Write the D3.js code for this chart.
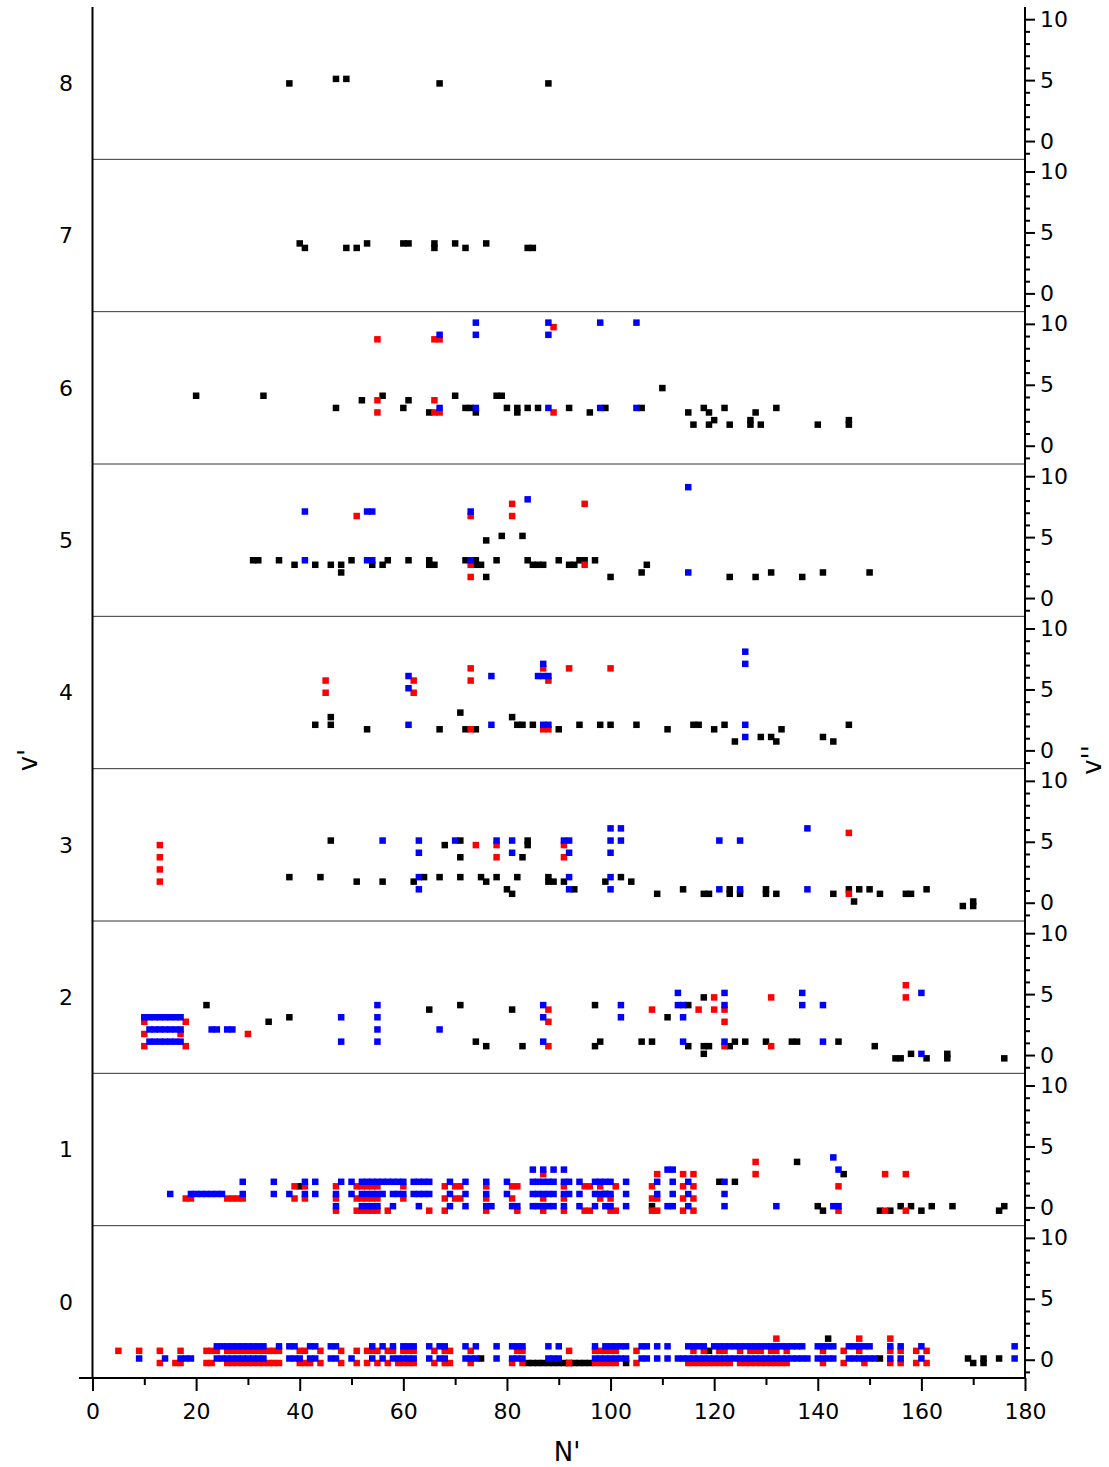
<!DOCTYPE html>
<html>
<head>
<meta charset="utf-8">
<script src="https://cdnjs.cloudflare.com/ajax/libs/d3/7.8.5/d3.min.js"></script>
<style>
body { margin: 0; background: #fff; }
svg { display: block; font-family: "DejaVu Sans", sans-serif; }
</style>
</head>
<body>
<div id="chart"></div>
<script>
// rows are [v'', [N' ...]] ; one set of arrays per v' panel
var vPrime = [0, 1, 2, 3, 4, 5, 6, 7, 8];
var xTicks = [0, 20, 40, 60, 80, 100, 120, 140, 160, 180];
var xMinor = [10, 30, 50, 70, 90, 110, 130, 150, 170];
var rTicks = [0, 5, 10];
var rMinor = [-1, 1, 2, 3, 4, 6, 7, 8, 9];

// v' = 0
var red0 = [
  [2, [132, 148, 154]],
  [1, [5, 9, 13, 17, 22, 23, 24, 26, 27, 28, 29, 30, 31, 32, 33, 34, 35, 36, 40, 41, 44, 48, 51, 53, 54, 55, 57, 58, 60, 61, 62, 66, 68, 69, 73, 82, 83, 92, 97, 98, 99, 100, 101, 105, 116, 118, 121, 122, 125, 127, 128, 129, 131, 132, 134, 141, 145, 148, 154, 156, 159, 161]],
  [0, [13, 16, 17, 22, 23, 26, 27, 28, 29, 30, 31, 32, 33, 34, 35, 36, 40, 41, 42, 44, 48, 51, 53, 55, 57, 59, 60, 61, 62, 66, 68, 69, 73, 81, 83, 92, 97, 98, 99, 100, 101, 105, 115, 116, 117, 118, 119, 120, 121, 122, 123, 125, 126, 127, 128, 129, 130, 131, 132, 133, 134, 141, 145, 149, 154, 156, 159, 161]]
];
var blue0 = [
  [1, [24, 25, 26, 27, 28, 29, 30, 31, 32, 33, 36, 38, 39, 42, 43, 46, 47, 54, 56, 58, 60, 61, 62, 65, 67, 68, 72, 74, 78, 81, 82, 83, 88, 90, 97, 99, 100, 101, 102, 103, 106, 107, 109, 111, 115, 116, 117, 118, 120, 121, 122, 123, 124, 125, 126, 127, 128, 129, 130, 131, 132, 133, 134, 135, 136, 137, 140, 141, 142, 143, 146, 147, 148, 149, 150, 154, 156, 160, 178]],
  [0, [9, 14, 17, 18, 19, 24, 25, 26, 27, 28, 29, 30, 31, 32, 33, 38, 39, 40, 42, 43, 46, 47, 50, 54, 56, 58, 59, 60, 61, 62, 65, 67, 68, 72, 73, 74, 78, 81, 82, 83, 88, 89, 90, 97, 98, 99, 100, 101, 102, 103, 106, 107, 109, 111, 113, 114, 115, 116, 117, 118, 119, 120, 121, 122, 123, 124, 125, 126, 127, 128, 129, 130, 131, 132, 133, 134, 135, 136, 137, 138, 140, 141, 142, 143, 146, 147, 148, 149, 150, 151, 154, 156, 160, 178]]
];
var blkU0 = [[0, [75, 152, 169, 172, 175]]];
var blkL0 = [[2, [142]], [1, [119]], [0, [84, 85, 86, 87, 88, 89, 90, 91, 92, 93, 94, 95, 96, 103, 170, 172]]];

// v' = 1
var red1 = [
  [4, [128]],
  [3, [87, 109, 114, 116, 128, 153, 157]],
  [2, [39, 41, 47, 51, 52, 53, 54, 55, 60, 68, 70, 71, 76, 81, 82, 91, 95, 96, 98, 101, 108, 114, 116, 144]],
  [1, [18, 19, 26, 27, 28, 29, 39, 41, 47, 51, 52, 53, 54, 55, 60, 68, 70, 71, 76, 81, 87, 91, 98, 100, 108, 109, 114, 116]],
  [0, [47, 51, 52, 53, 54, 55, 57, 65, 68, 76, 82, 87, 91, 95, 96, 100, 101, 108, 109, 114, 116, 144, 153, 157]]
];
var blue1 = [
  [4, [143]],
  [3, [85, 87, 89, 91, 111, 112, 144]],
  [2, [29, 35, 41, 43, 48, 50, 52, 53, 54, 55, 56, 57, 58, 59, 60, 62, 63, 64, 65, 69, 72, 76, 80, 85, 86, 87, 88, 89, 91, 92, 94, 97, 98, 99, 100, 103, 109, 112, 115, 122]],
  [1, [15, 19, 20, 21, 22, 23, 24, 25, 29, 35, 38, 41, 43, 47, 50, 52, 53, 54, 55, 56, 58, 59, 60, 62, 63, 64, 65, 69, 72, 76, 80, 85, 86, 87, 88, 89, 91, 92, 94, 97, 98, 99, 100, 103, 109, 112, 115, 122]],
  [0, [47, 52, 53, 54, 55, 58, 63, 69, 72, 76, 77, 81, 82, 85, 86, 87, 88, 89, 91, 94, 97, 99, 100, 103, 111, 112, 115, 122, 132, 143, 144]]
];
var blkU1 = [[2, [121, 124]], [1, [99]], [0, [108, 140, 156, 158, 162, 166, 176]]];
var blkL1 = [[4, [136]], [3, [145]], [2, [40]], [0, [141, 152, 154, 160, 175]]];

// v' = 2
var red2 = [
  [6, [157]],
  [5, [120, 131, 157]],
  [4, [88, 108, 117, 120, 122]],
  [3, [10, 18, 88, 122]],
  [2, [10, 17, 30]],
  [1, [10, 18, 88, 122, 131]]
];
var blue2 = [
  [5, [113, 122, 137, 160]],
  [4, [55, 87, 102, 113, 114, 122, 137, 141]],
  [3, [10, 11, 12, 13, 14, 15, 16, 17, 48, 55, 87, 102, 114]],
  [2, [11, 12, 13, 14, 15, 16, 17, 23, 24, 26, 27, 55, 67]],
  [1, [11, 12, 13, 14, 15, 16, 17, 48, 55, 87, 114, 122, 141]],
  [0, [160]]
];
var blkU2 = [[4, [22, 71, 97, 115]], [3, [38, 111]], [1, [74, 98, 106, 108, 124, 126, 130, 135, 136, 144]], [0, [118, 158, 165]]];
var blkL2 = [[5, [118]], [4, [65, 81]], [3, [34]], [1, [76, 83, 97, 115, 118, 119, 123, 151]], [0, [155, 156, 161, 165, 176]]];

// v' = 3
var red3 = [[6, [146]], [5, [13, 74, 78, 91]], [4, [13, 78, 91]], [3, [13]], [2, [13]], [1, [146]]];
var blue3 = [
  [6, [100, 102, 138]],
  [5, [56, 63, 70, 78, 81, 91, 92, 100, 102, 121, 125]],
  [4, [63, 81, 92, 100]],
  [2, [63, 92, 100]],
  [1, [63, 92, 100, 121, 125, 138]]
];
var blkU3 = [[5, [46, 71, 84]], [2, [38, 44, 64, 67, 71, 75, 78, 82, 88, 102]], [1, [80, 93, 114, 123, 130, 146, 148, 150, 161]], [0, [147, 170]]];
var blkL3 = [[5, [68, 84]], [4, [71, 83]], [2, [51, 56, 62, 76, 88, 89, 91, 99, 104]], [1, [81, 109, 118, 119, 123, 125, 130, 132, 143, 152, 157, 158]], [0, [168, 170]]];

// v' = 4
var red4 = [[7, [73, 87, 92, 100]], [6, [45, 62, 73, 88]], [5, [45, 62]], [2, [73, 87, 88]]];
var blue4 = [[8, [126]], [7, [87, 126]], [6, [61, 77, 86, 87, 88]], [5, [61]], [2, [61, 77, 87, 88, 126]], [1, [126]]];
var blkU4 = [[3, [71]], [2, [43, 46, 82, 83, 85, 94, 98, 100, 105, 116, 117, 122, 146]], [1, [129, 131, 141]]];
var blkL4 = [[3, [46, 81]], [2, [53, 67, 72, 74, 90, 111, 120, 133]], [1, [124, 132, 143]]];

// v' = 5
var red5 = [[8, [81, 95]], [7, [51, 73, 81]], [3, [73, 95]], [2, [73]]];
var blue5 = [[9, [115]], [8, [84]], [7, [41, 53, 54, 73]], [3, [41, 53, 54, 73]], [2, [115]]];
var blkU5 = [[5, [79, 83]], [3, [31, 32, 36, 50, 57, 61, 65, 72, 74, 78, 84, 90, 94, 95, 97]], [2, [48, 106, 131, 141, 150]]];
var blkL5 = [[5, [76]], [3, [39, 43, 46, 48, 54, 56, 65, 66, 74, 75, 85, 86, 87, 92, 93, 107]], [2, [76, 100, 123, 128, 137]]];

// v' = 6
var red6 = [[10, [89]], [9, [55, 66, 67]], [4, [55, 66]], [3, [55, 66, 67, 89]]];
var blue6 = [[10, [74, 88, 98, 105]], [9, [67, 74, 88]], [3, [67, 74, 88, 98, 105]]];
var blkU6 = [[4, [20, 33, 56, 70, 78, 79]], [3, [47, 60, 72, 73, 80, 82, 84, 86, 92, 99, 106, 118, 122, 132]], [2, [120, 127, 146]]];
var blkL6 = [[5, [110]], [4, [52, 61]], [3, [65, 74, 82, 96, 115, 119, 128]], [2, [116, 119, 123, 127, 129, 140, 146]]];

// v' = 7
var red7 = [], blue7 = [];
var blkU7 = [[4, [40, 53, 60, 61, 66, 70, 76]]];
var blkL7 = [[4, [41, 49, 51, 66, 72, 84, 85]]];

// v' = 8
var red8 = [], blue8 = [];
var blkU8 = [[5, [47, 49]]];
var blkL8 = [[5, [38, 67, 88]]];

var panels = [
  {v: 0, red: red0, blue: blue0, blkU: blkU0, blkL: blkL0},
  {v: 1, red: red1, blue: blue1, blkU: blkU1, blkL: blkL1},
  {v: 2, red: red2, blue: blue2, blkU: blkU2, blkL: blkL2},
  {v: 3, red: red3, blue: blue3, blkU: blkU3, blkL: blkL3},
  {v: 4, red: red4, blue: blue4, blkU: blkU4, blkL: blkL4},
  {v: 5, red: red5, blue: blue5, blkU: blkU5, blkL: blkL5},
  {v: 6, red: red6, blue: blue6, blkU: blkU6, blkL: blkL6},
  {v: 7, red: red7, blue: blue7, blkU: blkU7, blkL: blkL7},
  {v: 8, red: red8, blue: blue8, blkU: blkU8, blkL: blkL8}
];

// drawing order: black below, blue on top. off = small v'' shift of each sub-row
var series = [
  {key: "blkU", color: "#000000", off: 0.1},
  {key: "blkL", color: "#000000", off: -0.27},
  {key: "red", color: "#ff0000", off: -0.27},
  {key: "blue", color: "#0000ff", off: 0.1}
];

var width = 1109, height = 1467;
var plotLeft = 92.5, plotRight = 1025, plotTop = 7, plotBottom = 1378;
var panelH = (plotBottom - plotTop) / vPrime.length;
var ms = 6.5;
var font = "'DejaVu Sans', sans-serif";

var x = d3.scaleLinear().domain([0, 180]).range([plotLeft, plotRight]);

var svg = d3.select("#chart").append("svg")
  .attr("width", width)
  .attr("height", height);

panels.forEach(function(p){
  var yBot = plotBottom - p.v * panelH;
  var y = d3.scaleLinear().domain([-1.5, 11]).range([yBot, yBot - panelH]);
  var g = svg.append("g").attr("class", "panel");

  // separator
  if(p.v > 0){
    g.append("line")
      .attr("x1", plotLeft).attr("x2", plotRight)
      .attr("y1", yBot).attr("y2", yBot)
      .attr("stroke", "#333")
      .attr("stroke-width", 1);
  }

  series.forEach(function(s){
    var pts = [];
    p[s.key].forEach(function(row){
      row[1].forEach(function(n){ pts.push({n: n, v: row[0] + s.off}); });
    });
    g.selectAll("rect." + s.key)
      .data(pts)
      .enter().append("rect")
      .attr("class", s.key)
      .attr("x", d => x(d.n) - ms/2)
      .attr("y", d => y(d.v) - ms/2)
      .attr("width", ms)
      .attr("height", ms)
      .attr("fill", s.color);
  });

  // right axis
  var ra = svg.append("g")
    .attr("class", "r axis")
    .attr("transform", "translate(" + plotRight + ",0)")
    .call(d3.axisRight(y).tickValues(rTicks).tickSize(10).tickPadding(5));
  ra.attr("font-family", font).attr("font-size", 22);
  ra.select(".domain").remove();
  ra.selectAll("line").attr("stroke-width", 2);

  var rm = svg.append("g")
    .attr("transform", "translate(" + plotRight + ",0)")
    .call(d3.axisRight(y).tickValues(rMinor).tickSize(5).tickFormat(""));
  rm.select(".domain").remove();
  rm.selectAll("line").attr("stroke-width", 2);

  // left label
  svg.append("text")
    .attr("x", 73)
    .attr("y", yBot - panelH/2)
    .attr("dy", "0.36em")
    .attr("text-anchor", "end")
    .style("font-size", "22px")
    .text(p.v);
});

// frame lines
svg.append("line")
  .attr("x1", plotLeft).attr("x2", plotLeft)
  .attr("y1", plotTop).attr("y2", plotBottom + 1)
  .attr("stroke", "#000").attr("stroke-width", 2);
svg.append("line")
  .attr("x1", plotRight).attr("x2", plotRight)
  .attr("y1", plotTop).attr("y2", plotBottom + 1)
  .attr("stroke", "#000").attr("stroke-width", 2);

// bottom axis
var xa = svg.append("g")
  .attr("transform", "translate(0," + plotBottom + ")")
  .call(d3.axisBottom(x).tickValues(xTicks).tickSize(13).tickPadding(12));
xa.attr("font-family", font).attr("font-size", 22);
xa.select(".domain").remove();
xa.selectAll("line").attr("stroke-width", 2);

var xm = svg.append("g")
  .attr("transform", "translate(0," + plotBottom + ")")
  .call(d3.axisBottom(x).tickValues(xMinor).tickSize(7).tickFormat(""));
xm.select(".domain").remove();
xm.selectAll("line").attr("stroke-width", 2);

svg.append("line")
  .attr("x1", 79).attr("x2", plotRight)
  .attr("y1", plotBottom).attr("y2", plotBottom)
  .attr("stroke", "#000").attr("stroke-width", 2);

// titles
svg.append("text")
  .attr("x", 567).attr("y", 1461)
  .attr("text-anchor", "middle")
  .style("font-size", "26px")
  .text("N'");

svg.append("text")
  .attr("transform", "translate(37,760) rotate(-90)")
  .attr("text-anchor", "middle")
  .style("font-size", "26px")
  .text("v'");

svg.append("text")
  .attr("transform", "translate(1101,760) rotate(-90)")
  .attr("text-anchor", "middle")
  .style("font-size", "26px")
  .text("v''");
</script>
</body>
</html>
